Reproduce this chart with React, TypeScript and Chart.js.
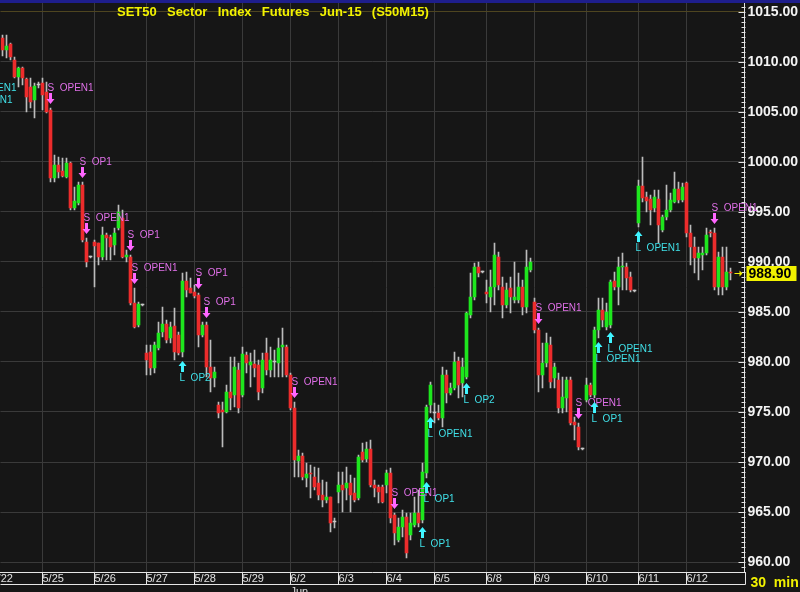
import React, { useEffect, useRef } from 'react';
import { Chart, registerables } from 'chart.js';

Chart.register(...registerables);

// ---------- data ----------
const dayNames = ['5/22', '5/25', '5/26', '5/27', '5/28', '5/29', '6/2', '6/3', '6/4', '6/5', '6/8', '6/9', '6/10', '6/11', '6/12'];
const dayBarCounts = [10, 13, 13, 12, 12, 12, 12, 12, 12, 13, 12, 13, 13, 12, 12];
const monthStartDay = '6/2';
const monthName = 'Jun';
const trailingEmptySlots = 3;

const opens = [
  1012.4, 1011.2, 1011.8, 1010.2, 1008.5, 1009.4, 1008.3, 1007.5, 1006.2, 1007.7,
  1007.9, 1007.0, 1005.2, 998.4, 999.7, 999.1, 998.5, 999.9, 995.4, 995.9,
  997.7, 992.0, 990.5, 992.0, 991.9, 990.5, 992.7, 992.5, 991.7, 993.4,
  994.4, 990.5, 990.5, 985.9, 983.7, 985.7, 980.9, 981.0, 979.4, 981.4,
  983.0, 983.8, 982.4, 983.6, 982.7, 981.0, 988.1, 987.4, 987.0, 986.7,
  982.7, 983.7, 979.5, 978.4, 975.7, 975.2, 975.0, 977.0, 976.7, 979.2,
  976.7, 980.7, 979.7, 979.8, 979.7, 977.4, 980.9, 979.2, 980.0, 979.9,
  981.5, 981.5, 978.7, 975.4, 970.1, 970.6, 968.4, 968.9, 968.5, 967.9,
  966.7, 966.2, 966.5, 964.0, 967.0, 967.7, 967.4, 967.9, 966.9, 966.4,
  971.0, 970.3, 971.3, 967.7, 967.5, 967.5, 967.7, 968.9, 964.7, 962.2,
  963.5, 964.5, 962.7, 963.7, 964.9, 964.2, 968.9, 975.7, 974.9, 974.9,
  974.4, 978.7, 976.9, 977.4, 980.1, 977.9, 978.5, 984.7, 986.5, 989.5,
  989.0, 987.0, 986.5, 987.5, 990.5, 987.5, 985.7, 987.4, 986.2, 986.2,
  987.5, 985.5, 989.2, 986.0, 983.2, 978.7, 979.9, 981.7, 978.4, 978.2,
  975.4, 976.4, 978.2, 974.0, 973.5, 971.3, 976.2, 977.7, 976.7, 983.2,
  985.2, 983.5, 983.7, 988.1, 987.5, 989.5, 989.5, 988.5, 987.1, 993.9,
  997.6, 996.5, 996.3, 995.4, 996.3, 993.2, 994.5, 995.2, 996.0, 997.3,
  996.2, 997.9, 992.9, 991.5, 990.4, 990.7, 990.9, 993.0, 992.9, 987.5,
  990.5, 987.5, 989.0,
];
const highs = [
  1012.7, 1012.7, 1011.9, 1010.5, 1009.5, 1009.5, 1008.4, 1008.4, 1007.9, 1008.0,
  1008.4, 1008.0, 1005.4, 1000.7, 1000.5, 1000.4, 1000.4, 1000.0, 997.5, 998.0,
  998.0, 992.4, 990.6, 992.2, 991.9, 993.5, 992.9, 992.7, 993.4, 995.7,
  995.2, 991.2, 990.7, 987.4, 986.0, 985.8, 981.7, 981.7, 982.0, 984.0,
  985.5, 984.2, 984.0, 985.4, 983.0, 988.9, 989.0, 988.4, 987.7, 986.9,
  984.0, 984.0, 982.2, 979.5, 976.0, 976.0, 977.7, 980.5, 980.5, 979.9,
  981.5, 981.0, 980.9, 981.2, 980.2, 980.9, 982.4, 981.5, 981.2, 982.4,
  983.4, 981.7, 978.9, 976.0, 971.2, 970.9, 969.9, 969.7, 969.5, 969.4,
  968.2, 968.0, 966.5, 964.4, 969.0, 969.0, 969.5, 968.7, 968.4, 970.7,
  971.9, 972.0, 972.2, 968.2, 967.7, 967.7, 969.2, 969.4, 964.9, 964.4,
  965.2, 964.9, 964.9, 966.5, 967.2, 969.9, 975.7, 978.0, 975.9, 975.7,
  979.5, 979.2, 977.9, 981.0, 980.5, 980.4, 985.0, 988.9, 989.9, 990.0,
  989.1, 988.2, 989.2, 991.9, 991.0, 988.5, 987.9, 988.5, 990.0, 988.9,
  988.2, 991.2, 990.4, 986.4, 983.4, 981.9, 982.9, 982.5, 979.9, 978.9,
  978.5, 978.5, 978.5, 974.5, 973.9, 971.4, 978.4, 977.9, 983.5, 986.4,
  986.4, 985.9, 988.2, 989.0, 990.5, 990.9, 989.9, 989.0, 987.2, 998.2,
  1000.5, 997.0, 996.7, 997.2, 997.2, 994.7, 997.7, 996.9, 999.0, 998.0,
  997.9, 998.0, 993.7, 992.5, 991.5, 991.5, 993.4, 993.2, 993.4, 991.0,
  991.5, 991.5, 989.4,
];
const lows = [
  1010.6, 1010.4, 1010.2, 1008.4, 1007.5, 1007.7, 1005.0, 1005.4, 1004.4, 1007.4,
  1005.2, 1004.9, 998.0, 998.0, 998.4, 998.5, 998.4, 995.2, 995.2, 995.7,
  992.0, 989.5, 990.4, 987.5, 989.7, 990.2, 990.2, 990.2, 990.7, 993.2,
  990.4, 990.0, 985.7, 983.4, 983.5, 985.6, 978.7, 978.7, 978.9, 981.2,
  982.5, 981.9, 981.9, 980.2, 980.7, 980.5, 986.5, 986.9, 986.4, 981.5,
  982.5, 978.5, 977.0, 977.5, 974.4, 971.5, 974.9, 975.2, 975.5, 974.9,
  976.5, 978.9, 977.5, 978.5, 976.2, 976.9, 978.7, 978.5, 978.5, 978.5,
  978.5, 978.5, 975.2, 968.5, 968.5, 968.2, 967.5, 966.4, 967.2, 966.2,
  965.5, 965.9, 963.0, 963.4, 965.9, 965.0, 966.2, 965.0, 966.0, 966.2,
  970.0, 970.0, 967.5, 966.5, 965.9, 965.9, 966.9, 963.9, 961.7, 962.0,
  962.5, 960.4, 962.2, 963.5, 963.5, 963.9, 968.4, 974.9, 973.9, 974.2,
  973.5, 975.9, 976.7, 977.2, 976.4, 976.5, 978.3, 984.4, 986.2, 988.5,
  988.9, 985.9, 985.0, 985.7, 987.2, 984.4, 985.4, 984.9, 985.9, 985.9,
  984.7, 984.9, 989.0, 982.9, 977.0, 977.4, 979.5, 977.4, 977.4, 974.9,
  974.9, 975.0, 973.7, 972.2, 971.2, 971.2, 976.0, 976.5, 976.4, 982.4,
  983.5, 983.2, 983.4, 987.2, 985.7, 987.2, 987.2, 987.0, 987.0, 993.5,
  996.0, 995.0, 993.7, 995.0, 991.9, 993.0, 994.2, 995.0, 995.9, 995.9,
  996.0, 992.5, 989.7, 988.9, 988.2, 989.2, 990.7, 992.5, 987.2, 986.7,
  986.7, 987.2, 988.2,
];
const closes = [
  1011.2, 1011.6, 1010.5, 1008.5, 1009.4, 1008.4, 1006.5, 1006.0, 1007.6, 1007.7,
  1006.7, 1005.0, 998.4, 999.7, 999.0, 998.6, 999.9, 995.4, 996.1, 997.7,
  992.2, 990.0, 990.5, 991.6, 990.5, 992.7, 992.4, 991.5, 992.9, 995.0,
  990.5, 990.7, 985.9, 983.5, 985.8, 985.7, 980.2, 979.4, 981.7, 982.9,
  983.8, 982.2, 983.5, 981.0, 980.9, 988.1, 987.2, 986.9, 986.6, 982.7,
  983.7, 979.5, 978.4, 979.0, 974.9, 975.0, 977.0, 976.4, 979.5, 975.4,
  980.8, 979.9, 980.0, 979.4, 977.0, 980.2, 979.2, 980.2, 980.0, 981.4,
  981.7, 978.7, 975.4, 970.2, 970.6, 968.5, 968.8, 968.8, 967.5, 966.7,
  966.2, 966.5, 963.9, 964.0, 967.7, 967.2, 967.9, 966.7, 966.2, 970.5,
  970.2, 971.3, 967.7, 967.4, 967.0, 966.0, 968.9, 964.4, 962.9, 963.5,
  964.5, 960.9, 963.9, 964.9, 963.9, 969.0, 975.5, 977.7, 974.9, 974.4,
  978.7, 976.9, 977.4, 980.0, 977.7, 979.5, 984.9, 986.5, 989.5, 988.9,
  989.0, 986.8, 987.5, 990.7, 987.7, 985.7, 987.2, 986.5, 986.5, 987.5,
  985.5, 989.5, 990.0, 983.2, 978.7, 979.9, 981.9, 978.0, 979.5, 975.4,
  976.5, 978.2, 973.9, 973.7, 971.5, 971.3, 977.7, 976.7, 983.2, 985.2,
  984.2, 985.0, 988.0, 987.5, 989.5, 989.6, 988.4, 987.2, 987.1, 997.6,
  996.4, 996.1, 995.2, 996.5, 993.7, 994.5, 995.2, 996.2, 997.3, 996.2,
  997.5, 992.9, 991.5, 990.4, 990.9, 990.9, 992.7, 992.9, 987.5, 990.5,
  987.5, 989.0, 988.9,
];

const yTickValues = [960, 965, 970, 975, 980, 985, 990, 995, 1000, 1005, 1010, 1015];
const yMin = 959;
const yMax = 1015.9;

const shortSignalBars = [12, 20, 21, 32, 33, 49, 51, 73, 98, 134, 144, 178];
const shortSignalTexts = ['S  OPEN1', 'S  OP1', 'S  OPEN1', 'S  OP1', 'S  OPEN1', 'S  OP1', 'S  OP1', 'S  OPEN1', 'S  OPEN1', 'S  OPEN1', 'S  OPEN1', 'S  OPEN1'];
const longSignalBars = [45, 105, 106, 107, 116, 148, 149, 152, 159];
const longSignalTexts = ['L  OP2', 'L  OP1', 'L  OP1', 'L  OPEN1', 'L  OP2', 'L  OP1', 'L  OPEN1', 'L  OPEN1', 'L  OPEN1'];
// labels of signals whose bars lie left of the visible range
const offLeftBarOffsets = [-7, -8];
const offLeftPrices = [1007.4, 1006.2];
const offLeftTexts = ['L  OPEN1', 'L  OPEN1'];
const firstDayLabelBarOffset = -3;

const titleText = 'SET50  Sector  Index  Futures  Jun-15  (S50M15)';
const intervalText = '30  min';

// ---------- styles ----------
const BG = '#161616';
const GRID = '#3a3a3a';
const AXIS = '#e6e6e6';
const UP = '#1ee61e';
const DOWN = '#ec2c2c';
const DOJI = '#c8c8c8';
const WICK = '#bcbcbc';
const YELLOW = '#f2f200';
const MAGENTA_TXT = '#e070e8';
const MAGENTA_ARW = '#ff66ff';
const CYAN_TXT = '#40e0e8';
const CYAN_ARW = '#40f4ff';
const FONT = '"Liberation Sans", Arial, sans-serif';

// ---------- derived ----------
const categories: string[] = [];
const dayStartLabel: Record<number, any> = {};
{
  let idx = 0;
  dayNames.forEach((d, di) => {
    if (di > 0) dayStartLabel[idx] = d === monthStartDay ? [d, monthName] : d;
    for (let k = 0; k < dayBarCounts[di]; k++) categories.push(d + ' #' + (k + 1));
    idx += dayBarCounts[di];
  });
  for (let k = 0; k < trailingEmptySlots; k++) categories.push('');
}
const bodies = opens.map((o, i) => [o, closes[i]]);
const wicks = lows.map((l, i) => [l, highs[i]]);
const bodyColors = opens.map((o, i) => (closes[i] > o ? UP : closes[i] < o ? DOWN : DOJI));

function drawArrow(ctx: CanvasRenderingContext2D, cx: number, tipY: number, dir: number, color: string) {
  const headLen = 5, headHalf = 4, shaftLen = 6, shaftHalf = 1.5;
  const baseY = tipY - dir * headLen;
  ctx.fillStyle = color;
  ctx.beginPath();
  ctx.moveTo(cx, tipY);
  ctx.lineTo(cx - headHalf, baseY);
  ctx.lineTo(cx - shaftHalf, baseY);
  ctx.lineTo(cx - shaftHalf, baseY - dir * shaftLen);
  ctx.lineTo(cx + shaftHalf, baseY - dir * shaftLen);
  ctx.lineTo(cx + shaftHalf, baseY);
  ctx.lineTo(cx + headHalf, baseY);
  ctx.closePath();
  ctx.fill();
}

const decorPlugin = {
  id: 'decor',
  beforeDraw(chart: any) {
    const { ctx, width, height } = chart;
    ctx.save();
    ctx.fillStyle = BG;
    ctx.fillRect(0, 0, width, height);
    ctx.fillStyle = '#1e1e8c';
    ctx.fillRect(0, 0, width, 3);
    ctx.restore();
  },
  afterDraw(chart: any) {
    const { ctx, chartArea } = chart;
    const xs = chart.scales.x;
    const ys = chart.scales.y;
    const step = xs.getPixelForValue(1) - xs.getPixelForValue(0);
    const right = Math.round(chartArea.right) + 0.5;
    ctx.save();

    // minor ticks on the price axis (inside the plot)
    ctx.strokeStyle = AXIS;
    ctx.lineWidth = 1;
    ctx.beginPath();
    for (let v = Math.ceil(yMin * 2) / 2; v <= yMax; v += 0.5) {
      const py = Math.round(ys.getPixelForValue(v)) + 0.5;
      const len = v % 5 === 0 ? 7 : 4;
      ctx.moveTo(right - len, py);
      ctx.lineTo(right, py);
    }
    // date box: bottom line and right edge
    const boxBottom = Math.round(chartArea.bottom) + 12.5;
    ctx.moveTo(chartArea.left, boxBottom);
    ctx.lineTo(right, boxBottom);
    ctx.moveTo(right, chartArea.bottom);
    ctx.lineTo(right, boxBottom);
    ctx.stroke();

    // partially visible first day label
    ctx.fillStyle = '#e0e0e0';
    ctx.font = '11px ' + FONT;
    ctx.textBaseline = 'middle';
    ctx.textAlign = 'left';
    ctx.fillText(dayNames[0], xs.getPixelForValue(0) + firstDayLabelBarOffset * step + 1, chartArea.bottom + 7);

    // signals
    ctx.font = '10px ' + FONT;
    shortSignalBars.forEach((b, k) => {
      const px = xs.getPixelForValue(b);
      const hy = ys.getPixelForValue(highs[b]);
      drawArrow(ctx, px, hy - 4, 1, MAGENTA_ARW);
      ctx.fillStyle = MAGENTA_TXT;
      ctx.fillText(shortSignalTexts[k], px - 3, hy - 20);
    });
    longSignalBars.forEach((b, k) => {
      const px = xs.getPixelForValue(b);
      const ly = ys.getPixelForValue(lows[b]);
      drawArrow(ctx, px, ly + 4, -1, CYAN_ARW);
      ctx.fillStyle = CYAN_TXT;
      ctx.fillText(longSignalTexts[k], px - 3, ly + 21);
    });
    offLeftBarOffsets.forEach((o, k) => {
      const px = xs.getPixelForValue(0) + o * step;
      ctx.fillStyle = CYAN_TXT;
      ctx.fillText(offLeftTexts[k], px - 3, ys.getPixelForValue(offLeftPrices[k]));
    });

    // title
    ctx.fillStyle = YELLOW;
    ctx.font = 'bold 13px ' + FONT;
    try { (ctx as any).wordSpacing = '1.5px'; } catch (e) { /* ignore */ }
    ctx.fillText(titleText, 117, 12);
    try { (ctx as any).wordSpacing = '0px'; } catch (e) { /* ignore */ }

    // last price marker
    const last = closes[closes.length - 1];
    const ly = ys.getPixelForValue(last);
    ctx.fillStyle = YELLOW;
    ctx.fillRect(right + 1, ly - 7, 50, 15);
    ctx.fillStyle = '#000000';
    ctx.font = 'bold 14px ' + FONT;
    ctx.fillText(last.toFixed(2), right + 3, ly + 1);
    ctx.strokeStyle = YELLOW;
    ctx.beginPath();
    ctx.moveTo(right - 11, Math.round(ly) + 0.5);
    ctx.lineTo(right - 5, Math.round(ly) + 0.5);
    ctx.stroke();
    ctx.beginPath();
    ctx.moveTo(right - 3, Math.round(ly) + 0.5);
    ctx.lineTo(right - 6, Math.round(ly) - 2.5);
    ctx.lineTo(right - 6, Math.round(ly) + 3.5);
    ctx.closePath();
    ctx.fillStyle = YELLOW;
    ctx.fill();

    // interval
    ctx.fillStyle = YELLOW;
    ctx.font = 'bold 14px ' + FONT;
    ctx.fillText(intervalText, right + 5, chartArea.bottom + 11);
    ctx.restore();
  },
};

export default function App() {
  const ref = useRef<HTMLCanvasElement | null>(null);
  useEffect(() => {
    if (!ref.current) return;
    const chart = new Chart(ref.current, {
      type: 'bar',
      data: {
        labels: categories,
        datasets: [
          {
            label: 'body',
            data: bodies as any,
            backgroundColor: bodyColors,
            barThickness: 3,
            minBarLength: 1,
            grouped: false,
            borderWidth: 0,
            order: 0,
          },
          {
            label: 'wick',
            data: wicks as any,
            backgroundColor: WICK,
            barThickness: 1,
            grouped: false,
            borderWidth: 0,
            order: 1,
          },
        ],
      },
      options: {
        animation: false,
        responsive: false,
        devicePixelRatio: 1,
        events: [],
        layout: { padding: { left: 0.5, top: 3, right: 0, bottom: 0 } },
        plugins: { legend: { display: false }, tooltip: { enabled: false }, title: { display: false } },
        scales: {
          x: {
            type: 'category',
            offset: true,
            afterFit: (s: any) => {
              s.height = 20;
              s.paddingLeft = 0;
              s.paddingRight = 0;
            },
            grid: {
              offset: false,
              color: (c: any) => (dayStartLabel[c.index] !== undefined ? GRID : 'rgba(0,0,0,0)'),
              tickColor: (c: any) => (dayStartLabel[c.index] !== undefined ? AXIS : 'rgba(0,0,0,0)'),
              tickLength: 12,
              drawTicks: true,
            },
            border: { display: true, color: AXIS, width: 1 },
            ticks: {
              autoSkip: false,
              maxRotation: 0,
              minRotation: 0,
              align: 'start',
              padding: -12,
              color: '#e0e0e0',
              font: { family: FONT, size: 11 },
              callback: (_v: any, i: number) => (dayStartLabel[i] !== undefined ? dayStartLabel[i] : ''),
            },
          },
          y: {
            type: 'linear',
            position: 'right',
            min: yMin,
            max: yMax,
            afterFit: (s: any) => {
              s.width = 55.5;
              s.paddingTop = 0;
              s.paddingBottom = 0;
            },
            afterBuildTicks: (s: any) => { s.ticks = yTickValues.map((v) => ({ value: v })); },
            grid: {
              color: (c: any) => (c.tick && c.tick.value === 1015 ? '#4e4520' : GRID),
              drawTicks: false,
            },
            border: { display: true, color: AXIS, width: 1 },
            ticks: {
              padding: 3,
              color: '#f4f4f4',
              font: { family: FONT, size: 14, weight: 'bold' },
              callback: (v: any) => Number(v).toFixed(2),
            },
          },
        },
      },
      plugins: [decorPlugin],
    } as any);
    return () => chart.destroy();
  }, []);
  return (
    <div style={{ position: 'fixed', left: 0, top: 0, width: 800, height: 592, background: BG }}>
      <canvas ref={ref} width={800} height={592} style={{ display: 'block', width: 800, height: 592 }} />
    </div>
  );
}
